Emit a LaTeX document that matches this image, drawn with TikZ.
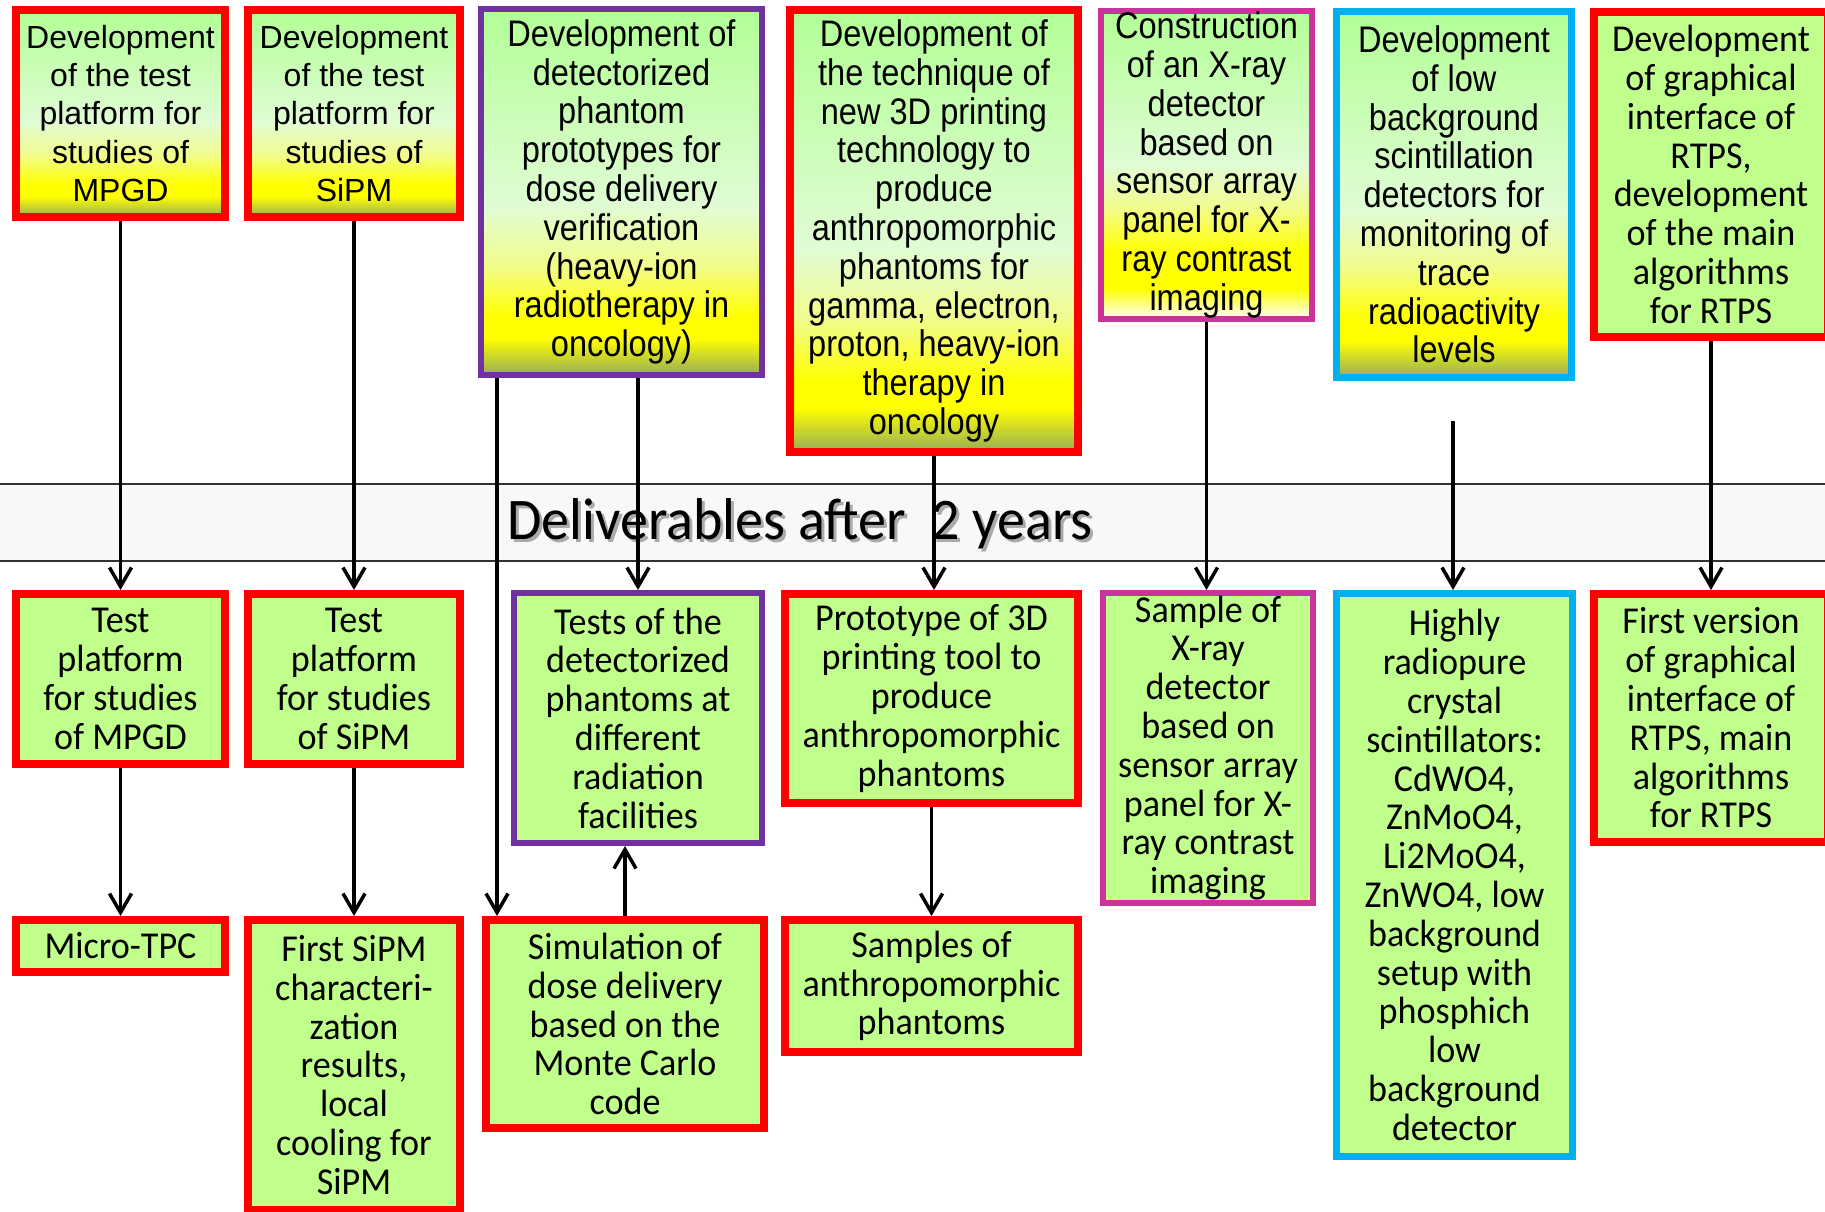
\documentclass[tikz,border=0pt]{standalone}
\usepackage{fontspec}
\setmainfont{Liberation Sans}
\newfontfamily\arialf{Liberation Sans}
\newfontfamily\narrowf[FakeStretch=0.88]{Liberation Sans}
\newfontfamily\comicf[FakeStretch=0.95]{Carlito}
\usetikzlibrary{arrows.meta}

\definecolor{grn}{RGB}{178,255,150}
\definecolor{pale}{RGB}{224,252,212}
\definecolor{pyel}{RGB}{242,252,140}
\definecolor{yel}{RGB}{255,255,0}
\definecolor{olv}{RGB}{150,172,88}
\definecolor{lgrn}{RGB}{193,255,140}
\definecolor{bred}{RGB}{255,0,0}
\definecolor{bpur}{RGB}{112,48,160}
\definecolor{bmag}{RGB}{204,51,153}
\definecolor{bcya}{RGB}{0,176,240}
\definecolor{bandgray}{RGB}{249,248,246}
\definecolor{bandline}{RGB}{50,50,50}
\definecolor{shadowgray}{RGB}{170,170,170}

\pgfdeclareverticalshading{topgrad}{100bp}{color(0bp)=(olv); color(25bp)=(olv); color(30bp)=(yel); color(33bp)=(yel); color(40bp)=(pyel); color(48bp)=(pale); color(75bp)=(grn); color(100bp)=(grn)}
\pgfdeclareverticalshading{maggrad}{100bp}{color(0bp)=(white); color(25bp)=(white); color(30bp)=(yel); color(36bp)=(yel); color(43bp)=(pyel); color(50bp)=(pale); color(75bp)=(grn); color(100bp)=(grn)}

\newcommand{\bandtext}{Deliverables after\ \ 2 years}

\tikzset{
  box/.style={inner sep=0pt, align=center, text=black},
  redbox/.style={box, draw=bred, line width=8pt},
  purbox/.style={box, draw=bpur, line width=6pt},
  magbox/.style={box, draw=bmag, line width=6pt},
  cyabox/.style={box, draw=bcya, line width=7pt},
  topshade/.style={shade, shading=topgrad},
  magshade/.style={shade, shading=maggrad},
  solid green/.style={fill=lgrn},
  topfont/.style={font=\arialf\fontsize{32}{38.4}\selectfont},
  narfont/.style={font=\narrowf\fontsize{37}{38.8}\selectfont},
  comfont/.style={font=\comicf\fontsize{38}{38.8}\selectfont},
  bandfont/.style={font=\comicf\fontsize{59}{60}\selectfont},
  arr/.style={draw=black, line width=3.5pt, -{Straight Barb[length=19pt,width=22pt,line width=3.5pt]}},
  bandrule/.style={draw=bandline, line width=2.5pt}
}

\begin{document}
\begin{tikzpicture}[x=1pt,y=-1pt]
\useasboundingbox (0,0) rectangle (1825,1211);
\clip (0,0) rectangle (1825,1211);
\fill[white] (0,0) rectangle (1825,1211);

% band
\fill[bandgray] (0,484) rectangle (1825,561);
\draw[bandrule] (0,484) -- (1825,484);
\draw[bandrule] (0,561) -- (1825,561);
\node[bandfont, text=black, anchor=base] (bandtxt) at (800,539)
  {\rlap{\hspace{3pt}\raisebox{-3pt}{\color{shadowgray}\bandtext}}\bandtext};

% top row
\node[redbox, topshade, topfont, minimum width=209pt, minimum height=207pt] (B1) at (120.5,113.5)
  {Development\\of the test\\platform for\\studies of\\MPGD};
\node[redbox, topshade, topfont, minimum width=212pt, minimum height=207pt] (B2) at (354,113.5)
  {Development\\of the test\\platform for\\studies of\\SiPM};
\node[purbox, topshade, narfont, minimum width=281pt, minimum height=366pt] (B3) at (621.5,192)
  {Development of\\detectorized\\phantom\\prototypes for\\dose delivery\\verification\\(heavy-ion\\radiotherapy in\\oncology)};
\node[redbox, topshade, narfont, minimum width=288pt, minimum height=442pt] (B4) at (934,231)
  {Development of\\the technique of\\new 3D printing\\technology to\\produce\\anthropomorphic\\phantoms for\\gamma, electron,\\proton, heavy-ion\\therapy in\\oncology};
\node[magbox, magshade, narfont, minimum width=211pt, minimum height=308pt] (B5) at (1206.5,165)
  {Construction\\of an X-ray\\detector\\based on\\sensor array\\panel for X-\\ray contrast\\imaging};
\node[cyabox, topshade, narfont, minimum width=235pt, minimum height=366pt] (B6) at (1454,194.5)
  {Development\\of low\\background\\scintillation\\detectors for\\monitoring of\\trace\\radioactivity\\levels};
\node[redbox, solid green, comfont, minimum width=234pt, minimum height=325pt] (B7) at (1711,174.5)
  {Development\\of graphical\\interface of\\RTPS,\\development\\of the main\\algorithms\\for RTPS};

% middle row
\node[redbox, solid green, comfont, minimum width=209pt, minimum height=170pt] (M1) at (120.5,679)
  {Test\\platform\\for studies\\of MPGD};
\node[redbox, solid green, comfont, minimum width=212pt, minimum height=170pt] (M2) at (354,679)
  {Test\\platform\\for studies\\of SiPM};
\node[purbox, solid green, comfont, minimum width=248pt, minimum height=250pt] (M3) at (638,718)
  {Tests of the\\detectorized\\phantoms at\\different\\radiation\\facilities};
\node[redbox, solid green, comfont, minimum width=293pt, minimum height=209pt] (M4) at (931.5,698.5)
  {Prototype of 3D\\printing tool to\\produce\\anthropomorphic\\phantoms};
\node[magbox, solid green, comfont, minimum width=210pt, minimum height=310pt] (M5) at (1208,748)
  {Sample of\\X-ray\\detector\\based on\\sensor array\\panel for X-\\ray contrast\\imaging};
\node[cyabox, solid green, comfont, minimum width=236pt, minimum height=563pt] (M6) at (1454.5,875)
  {Highly\\radiopure\\crystal\\scintillators:\\CdWO4,\\ZnMoO4,\\Li2MoO4,\\ZnWO4, low\\background\\setup with\\phosphich\\low\\background\\detector};
\node[redbox, solid green, comfont, minimum width=234pt, minimum height=248pt] (M7) at (1711,718)
  {First version\\of graphical\\interface of\\RTPS, main\\algorithms\\for RTPS};

% bottom row
\node[redbox, solid green, comfont, minimum width=209pt, minimum height=52pt] (L1) at (120.5,946)
  {Micro-TPC};
\node[redbox, solid green, comfont, minimum width=212pt, minimum height=290pt] (L2) at (354,1065)
  {First SiPM\\characteri-\\zation\\results,\\local\\cooling for\\SiPM};
\node[redbox, solid green, comfont, minimum width=278pt, minimum height=208pt] (L3) at (625,1024)
  {Simulation of\\dose delivery\\based on the\\Monte Carlo\\code};
\node[redbox, solid green, comfont, minimum width=293pt, minimum height=132pt] (L4) at (931.5,986)
  {Samples of\\anthropomorphic\\phantoms};

% connectors
\coordinate (x3a) at (497,0);
\coordinate (s6) at (1453,421);
\draw[arr] (B1.south) -- (B1.south |- M1.north);
\draw[arr] (B2.south) -- (B2.south |- M2.north);
\draw[arr] (B3.south -| x3a) -- (L3.north -| x3a);
\draw[arr] (B3.south -| M3.north) -- (M3.north);
\draw[arr] (B4.south) -- (B4.south |- M4.north);
\draw[arr] (B5.south) -- (B5.south |- M5.north);
\draw[arr] (s6) -- (s6 |- M6.north);
\draw[arr] (B7.south) -- (B7.south |- M7.north);
\draw[arr] (M1.south) -- (M1.south |- L1.north);
\draw[arr] (M2.south) -- (M2.south |- L2.north);
\draw[arr] (L3.north) -- (L3.north |- M3.south);
\draw[arr] (M4.south) -- (M4.south |- L4.north);
\end{tikzpicture}
\end{document}
